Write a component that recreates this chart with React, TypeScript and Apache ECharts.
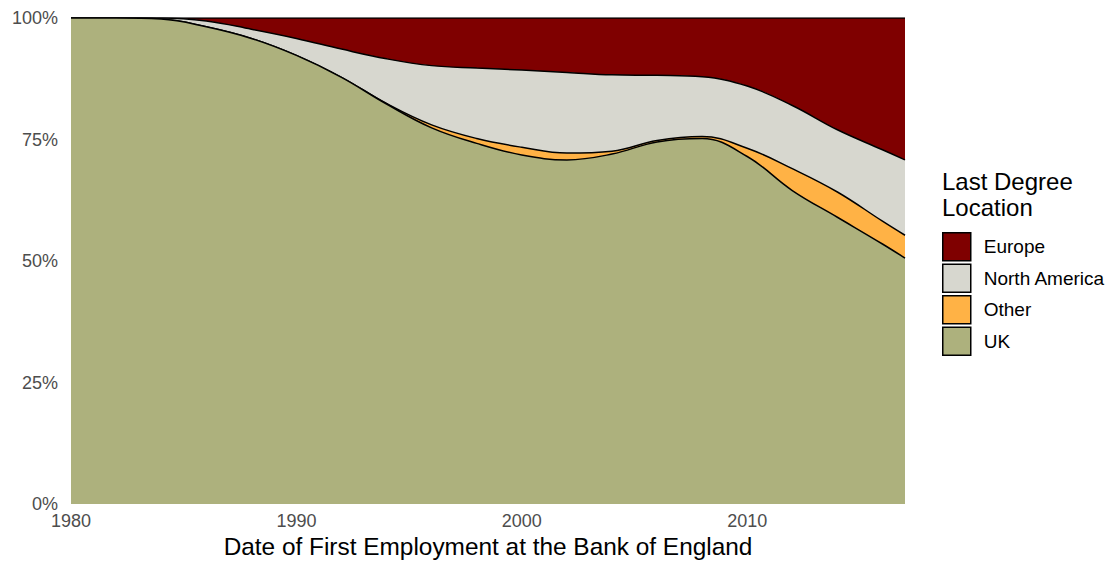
import React, { useEffect, useRef } from 'react';
import * as echarts from 'echarts';

const years = [1980, 1982, 1984, 1986, 1988, 1990, 1992, 1994, 1996, 1998, 2000, 2002, 2004, 2006, 2008, 2010, 2012, 2014, 2016, 2017];
const uk = [100, 100, 99.8, 98.2, 95.8, 92.3, 87.8, 82.3, 77.4, 74.2, 71.8, 70.8, 72.0, 74.5, 75.2, 71.5, 64.5, 59.0, 53.5, 50.6];
const other = [0, 0, 0, 0, 0, 0, 0, 0.1, 0.6, 1.0, 1.6, 1.4, 0.6, 0.3, 0.4, 1.7, 4.5, 5.2, 4.7, 4.7];
const northAmerica = [0, 0, 0.2, 1.2, 1.9, 3.5, 5.8, 9.2, 12.2, 14.5, 15.9, 16.6, 15.7, 13.4, 12.3, 12.8, 13.0, 12.8, 14.7, 15.5];
const europe = [0, 0, 0, 0.6, 2.3, 4.2, 6.4, 8.4, 9.8, 10.3, 10.7, 11.2, 11.7, 11.8, 12.1, 14.0, 18.0, 23.0, 27.1, 29.2];

const categories = ['Europe', 'North America', 'Other', 'UK'];
const colors: Record<string, string> = {
  Europe: '#7f0000',
  'North America': '#d7d7cf',
  Other: '#ffb245',
  UK: '#adb17d',
};
const xTicks = [1980, 1990, 2000, 2010];
const yTicks = [0, 25, 50, 75, 100];

const FONT = '"Liberation Sans", Arial, Helvetica, sans-serif';

export default function App() {
  const ref = useRef<HTMLDivElement>(null);
  useEffect(() => {
    if (!ref.current) return;
    const chart = echarts.init(ref.current, undefined, { renderer: 'svg' });
    const valuesByName: Record<string, number[]> = {
      UK: uk,
      Other: other,
      'North America': northAmerica,
      Europe: europe,
    };
    // bottom-to-top stacking order
    const stackOrder = ['UK', 'Other', 'North America', 'Europe'];
    const cumulative: Record<string, number[]> = {};
    let running = years.map(() => 0);
    stackOrder.forEach((name) => {
      running = running.map((v, k) => v + valuesByName[name][k]);
      cumulative[name] = running.slice();
    });
    // paint the tallest cumulative area first, the bottom layer last
    const series = stackOrder
      .slice()
      .reverse()
      .map((name, i) => ({
        name,
        type: 'line',
        smooth: 0.4,
        symbol: 'none',
        z: 2 + i,
        data: years.map((y, k) => [y, Math.min(100, cumulative[name][k])]),
        lineStyle: { color: '#000', width: 1.5 },
        itemStyle: { color: colors[name] },
        areaStyle: { color: colors[name], opacity: 1, origin: 'start' },
        emphasis: { disabled: true },
      }));
    chart.setOption({
      animation: false,
      textStyle: { fontFamily: FONT },
      grid: {
        left: 71,
        right: 211,
        top: 18,
        bottom: 60,
        containLabel: false,
        outerBoundsMode: 'none',
      },
      xAxis: {
        type: 'value',
        min: 1980,
        max: 2017,
        interval: 10,
        name: 'Date of First Employment at the Bank of England',
        nameLocation: 'middle',
        nameGap: 27,
        nameTextStyle: { color: '#000', fontSize: 24.4, fontFamily: FONT },
        axisLine: { show: false },
        axisTick: { show: false },
        splitLine: { show: false },
        axisLabel: {
          color: '#4d4d4d',
          fontSize: 18,
          margin: 8,
          fontFamily: FONT,
          formatter: (v: number) => (xTicks.includes(v) ? String(v) : ''),
        },
      },
      yAxis: {
        type: 'value',
        min: 0,
        max: 100,
        interval: 25,
        axisLine: { show: false },
        axisTick: { show: false },
        splitLine: { show: false },
        axisLabel: {
          color: '#4d4d4d',
          fontSize: 18,
          margin: 13,
          fontFamily: FONT,
          formatter: (v: number) => (yTicks.includes(v) ? v + '%' : ''),
        },
      },
      legend: {
        orient: 'vertical',
        left: 942,
        top: 232,
        padding: 0,
        itemWidth: 28,
        itemHeight: 28,
        itemGap: 2,
        icon: 'rect',
        selectedMode: false,
        textStyle: { fontSize: 19, color: '#000', fontFamily: FONT, padding: [0, 0, 0, 8] },
        data: categories.map((name) => ({
          name,
          icon: 'rect',
          itemStyle: { color: colors[name], borderColor: '#000', borderWidth: 1.5 },
        })),
      },
      graphic: [
        {
          type: 'text',
          left: 942,
          top: 168,
          style: {
            text: 'Last Degree\nLocation',
            fontSize: 24,
            lineHeight: 26,
            fill: '#000',
            fontFamily: FONT,
          },
        },
      ],
      series,
    });
    return () => chart.dispose();
  }, []);
  return (
    <div
      ref={ref}
      style={{ position: 'absolute', left: 0, top: 0, width: 1116, height: 564 }}
    />
  );
}
